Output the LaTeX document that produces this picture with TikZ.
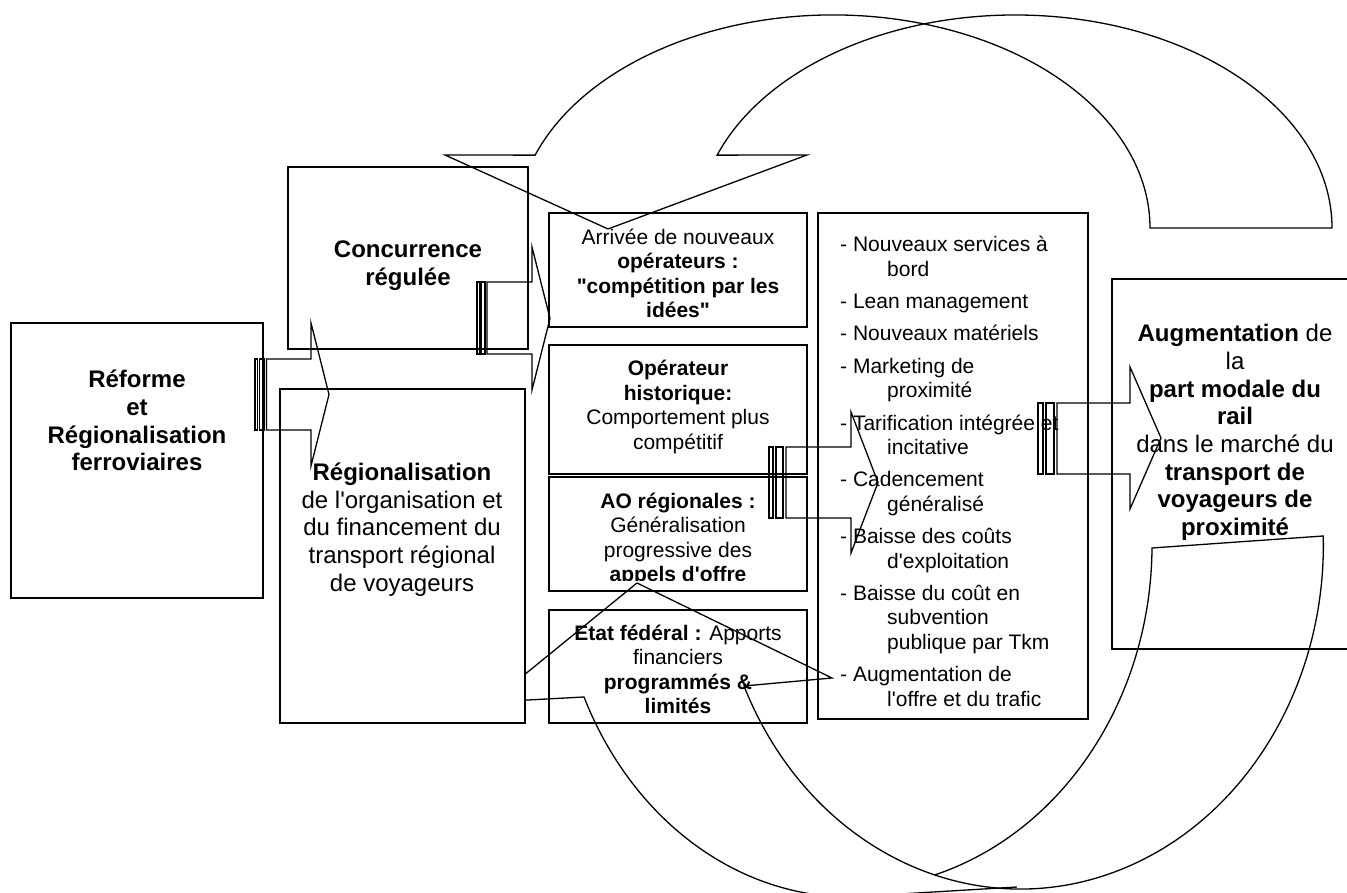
\documentclass[tikz,border=0pt]{standalone}
\usepackage{fontspec}
\setmainfont{Liberation Sans}
\newcommand\apos{\textquotesingle}
\begin{document}
\begin{tikzpicture}[
   x=1pt,y=1pt,
   box/.style={draw,line width=1.7pt,inner sep=0pt},
   whitebox/.style={box,fill=white},
   txt/.style={align=center,inner sep=0pt,font=\fontsize{21}{24.4}\selectfont},
   bigtxt/.style={align=center,inner sep=0pt,font=\fontsize{24}{27.7}\selectfont},
   boldtxt/.style={bigtxt,font=\fontsize{24}{27.7}\selectfont\bfseries},
   outline/.style={line width=1.3pt,line join=miter}]
\useasboundingbox (0,0) rectangle (1347,893);
\clip (0,0) rectangle (1347,893);
% curved arrow, bottom
\draw[outline] (637,310) -- (832,215) -- (744,207)
   arc[start angle=204.2,end angle=361.5,x radius=303,y radius=344]
   -- (1152,345) arc[start angle=-0.5,end angle=-73.7,x radius=303,y radius=344];
\draw[outline] (637,310) -- (491,191) -- (584,196)
   arc[start angle=204.75,end angle=270,x radius=293,y radius=344] -- (1017,6);
% curved arrow, top
\draw[outline] (445,738) -- (535.1,737.85)
   arc[start angle=160,end angle=0,x radius=317,y radius=213]
   -- (1332,665) arc[start angle=0,end angle=160,x radius=317,y radius=213]
   -- (807,738) -- (608,664) -- cycle;
% boxes
\node[box,minimum width=252pt,minimum height=275pt] (reforme) at (137,432.5) {};
\node[box,minimum width=240pt,minimum height=182pt] (concurrence) at (408,635) {};
\node[whitebox,minimum width=245pt,minimum height=334pt] (regional) at (402.5,337) {};
\node[box,minimum width=258pt,minimum height=114pt] (arrivee) at (678,623) {};
\node[box,minimum width=258pt,minimum height=129pt] (historique) at (678,483.5) {};
\node[box,minimum width=258pt,minimum height=114pt] (ao) at (678,359) {};
\node[box,minimum width=258pt,minimum height=113pt] (etat) at (678,226.5) {};
\node[box,minimum width=270pt,minimum height=506pt] (liste) at (953,427) {};
\node[box,minimum width=246pt,minimum height=370pt] (augment) at (1235,429) {};
% texts
\node[boldtxt] (reformeT) at (137,472.5) {R\'eforme\\et\\R\'egionalisation\\ferroviaires};
\node[boldtxt] (concurrenceT) at (408,627) {Concurrence\\r\'egul\'ee};
\node[bigtxt] (regionalT) at (402,363.5) {\textbf{R\'egionalisation}\\de l\apos organisation et\\du financement du\\transport r\'egional\\de voyageurs};
\node[txt] (arriveeT) at (678,619.5) {Arriv\'ee de nouveaux\\\textbf{op\'erateurs :}\\\textbf{\textquotedbl comp\'etition par les}\\\textbf{id\'ees\textquotedbl}};
\node[txt] (historiqueT) at (678,486) {\textbf{Op\'erateur}\\\textbf{historique:}\\Comportement plus\\comp\'etitif};
\begin{scope}
\clip (549,312) rectangle (807,416);
\node[txt] (aoT) at (678,353.5) {\textbf{AO r\'egionales :}\\G\'en\'eralisation\\progressive des\\\textbf{appels d\apos offre}};
\end{scope}
\node[txt] (etatT) at (678,223.5) {\textbf{Etat f\'ed\'eral :} Apports\\financiers\\\textbf{programm\'es \&}\\\textbf{limit\'es}};
\node[txt,align=left,anchor=north west] (listeT) at (840,657) {- Nouveaux services \`a\\\hspace*{47pt}bord\\[8pt]
   - Lean management\\[8pt]
   - Nouveaux mat\'eriels\\[8pt]
   - Marketing de\\\hspace*{47pt}proximit\'e\\[8pt]
   - Tarification int\'egr\'ee et\\\hspace*{47pt}incitative\\[8pt]
   - Cadencement\\\hspace*{47pt}g\'en\'eralis\'e\\[8pt]
   - Baisse des co\^uts\\\hspace*{47pt}d\apos exploitation\\[8pt]
   - Baisse du co\^ut en\\\hspace*{47pt}subvention\\\hspace*{47pt}publique par Tkm\\[8pt]
   - Augmentation de\\\hspace*{47pt}l\apos offre et du trafic};
\node[bigtxt] (augmentT) at (1235,460.5) {\textbf{Augmentation} de\\la\\\textbf{part modale du}\\\textbf{rail}\\dans le march\'e du\\\textbf{transport de}\\\textbf{voyageurs de}\\\textbf{proximit\'e}};
% striped arrows
\draw[outline] (255,463) rectangle (257.5,534);
\draw[outline] (259.5,463) rectangle (264,534);
\draw[outline] (266.5,463) -- (266.5,534) -- (311,534) -- (311,570) -- (329,498.5) -- (311,427) -- (311,463) -- cycle;
\draw[outline] (477,539) rectangle (479.5,611);
\draw[outline] (481,539) rectangle (485,611);
\draw[outline] (487,539) -- (487,611) -- (532,611) -- (532,646) -- (550,574.5) -- (532,503) -- (532,539) -- cycle;
\draw[outline] (769,375) rectangle (773,446);
\draw[outline] (776,375) rectangle (783,446);
\draw[outline] (786,375) -- (786,446) -- (851,446) -- (851,481) -- (878,410.5) -- (851,340) -- (851,375) -- cycle;
\draw[outline] (1038,419) rectangle (1043,490);
\draw[outline] (1046,419) rectangle (1054,490);
\draw[outline] (1057,419) -- (1057,490) -- (1130,490) -- (1130,526) -- (1161,455) -- (1130,384) -- (1130,419) -- cycle;
\end{tikzpicture}
\end{document}
